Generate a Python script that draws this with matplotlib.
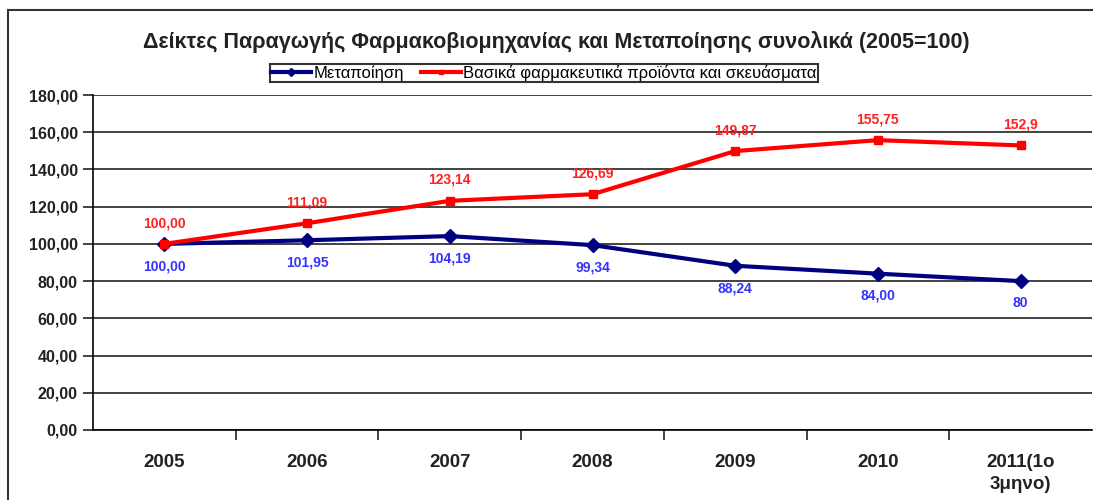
import matplotlib
matplotlib.use('Agg')
import matplotlib.pyplot as plt
from matplotlib.patches import Rectangle

plt.rcParams['font.family'] = ['Liberation Sans', 'DejaVu Sans']

years = ['2005', '2006', '2007', '2008', '2009', '2010', '2011(1ο\n3μηνο)']
manufacturing = [100.00, 101.95, 104.19, 99.34, 88.24, 84.00, 80]
pharma = [100.00, 111.09, 123.14, 126.69, 149.87, 155.75, 152.9]
manufacturing_labels = ['100,00', '101,95', '104,19', '99,34', '88,24', '84,00', '80']
pharma_labels = ['100,00', '111,09', '123,14', '126,69', '149,87', '155,75', '152,9']
yticks = [0, 20, 40, 60, 80, 100, 120, 140, 160, 180]

fig = plt.figure(figsize=(10.93, 5.0), dpi=100)
ax = fig.add_axes([93 / 1093, 70 / 500, 999 / 1093, 335 / 500])

x = list(range(len(years)))
ax.plot(x, manufacturing, color='#000080', lw=3, marker='D', ms=7,
        label='Μεταποίηση', zorder=3)
ax.plot(x, pharma, color='#ff0000', lw=3, marker='s', ms=5.5,
        label='Βασικά φαρμακευτικά προϊόντα και σκευάσματα', zorder=4)

for i in x:
    ax.annotate(manufacturing_labels[i], (i, manufacturing[i]), xytext=(0, -11),
                textcoords='offset points', ha='center', va='top',
                color='#3333ff', fontsize=10, fontweight='bold')
    ax.annotate(pharma_labels[i], (i, pharma[i]), xytext=(0, 10),
                textcoords='offset points', ha='center', va='bottom',
                color='#ff2020', fontsize=10, fontweight='bold')

ax.set_xlim(-0.5, len(years) - 0.5)
ax.set_ylim(0, 180)
ax.set_yticks(yticks)
ax.set_yticklabels([f'{v:.2f}'.replace('.', ',') for v in yticks],
                   fontsize=11.5, fontweight='bold', color='#222222')
ax.set_xticks(x)
ax.set_xticklabels(years, fontsize=13.5, fontweight='bold', color='#222222',
                   linespacing=1.4)
ax.set_xticks([i + 0.5 for i in x[:-1]], minor=True)
ax.tick_params(axis='x', which='major', length=0, pad=17)
ax.tick_params(axis='x', which='minor', length=7, width=1.2, color='#222222')
ax.tick_params(axis='y', length=7, width=1.2, color='#222222', pad=4)
ax.grid(axis='y', color='#222222', lw=1.2)
ax.set_axisbelow(True)
for side in ['top', 'right']:
    ax.spines[side].set_visible(False)
ax.spines['left'].set_linewidth(1.2)
ax.spines['bottom'].set_linewidth(1.2)

fig.text(556 / 1093, 1 - 42 / 500,
         'Δείκτες Παραγωγής Φαρμακοβιομηχανίας και Μεταποίησης συνολικά (2005=100)',
         ha='center', va='center', fontsize=15.5, fontweight='bold', color='#222222')

leg = fig.legend(loc='center', bbox_to_anchor=(544 / 1093, 1 - 73 / 500), ncol=2,
                 frameon=True, fancybox=False, edgecolor='black', fontsize=12,
                 handlelength=2.4, columnspacing=1.0, borderpad=0.08,
                 handletextpad=0.15, markerscale=0.6, borderaxespad=0)
leg.get_frame().set_linewidth(1.5)

fig.patches.append(Rectangle((8 / 1093, -0.1), 1.2, 1.1 - 10 / 500,
                             transform=fig.transFigure, fill=False,
                             edgecolor='#333333', lw=1.5, clip_on=False))

fig.savefig('out.png', dpi=100)
